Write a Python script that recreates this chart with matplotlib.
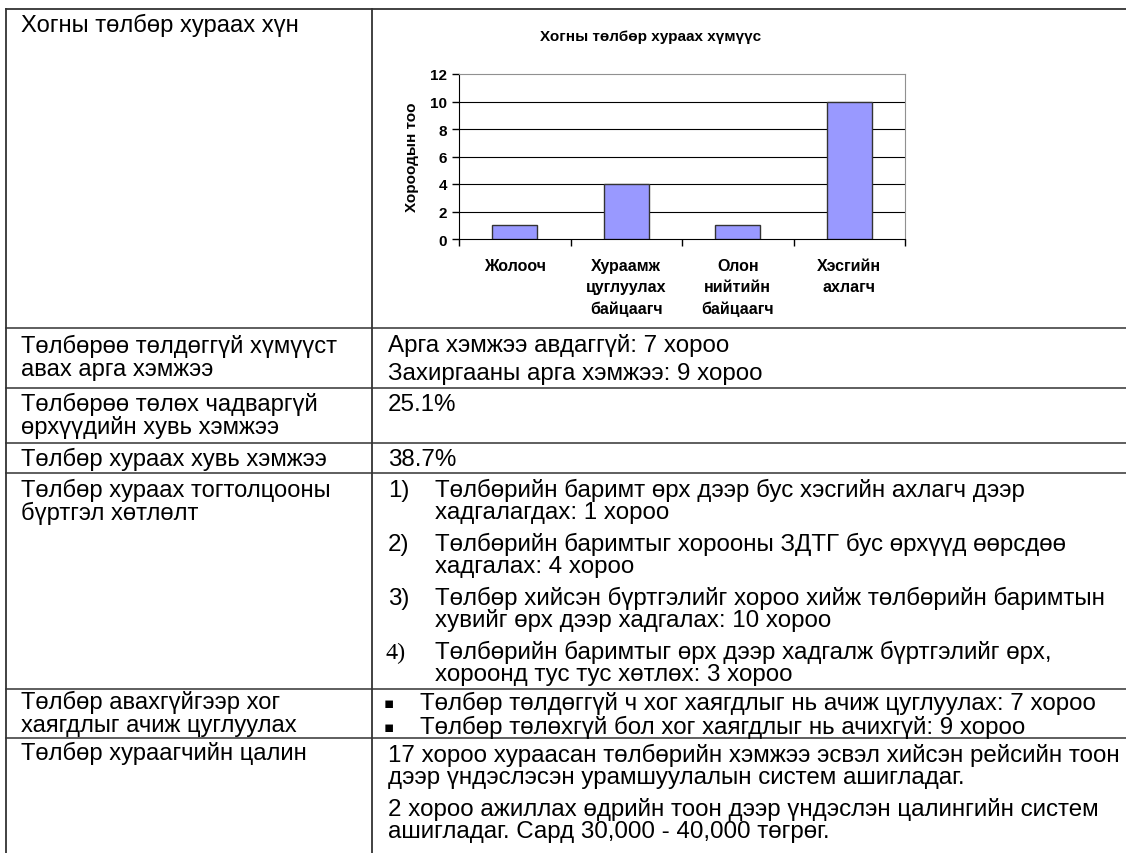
import matplotlib.pyplot as plt

# chart data
categories = ['Жолооч', 'Хураамж\nцуглуулах\nбайцаагч', 'Олон\nнийтийн\nбайцаагч', 'Хэсгийн\nахлагч']
counts = [1, 4, 1, 10]
y_ticks = [0, 2, 4, 6, 8, 10, 12]
chart_title = 'Хогны төлбөр хураах хүмүүс'
y_label = 'Хороодын тоо'

# table text
row_labels = [
    ['Хогны төлбөр хураах хүн'],
    ['Төлбөрөө төлдөггүй хүмүүст', 'авах арга хэмжээ'],
    ['Төлбөрөө төлөх чадваргүй', 'өрхүүдийн хувь хэмжээ'],
    ['Төлбөр хураах хувь хэмжээ'],
    ['Төлбөр хураах тогтолцооны', 'бүртгэл хөтлөлт'],
    ['Төлбөр авахгүйгээр хог', 'хаягдлыг ачиж цуглуулах'],
    ['Төлбөр хураагчийн цалин'],
]
measures = ['Арга хэмжээ авдаггүй: 7 хороо', 'Захиргааны арга хэмжээ: 9 хороо']
share_unable = '25.1%'
share_collected = '38.7%'
list_nums = ['1)', '2)', '3)', '4)']
list_items = [
    ['Төлбөрийн баримт өрх дээр бус хэсгийн ахлагч дээр', 'хадгалагдах: 1 хороо'],
    ['Төлбөрийн баримтыг хорооны ЗДТГ бус өрхүүд өөрсдөө', 'хадгалах: 4 хороо'],
    ['Төлбөр хийсэн бүртгэлийг хороо хийж төлбөрийн баримтын', 'хувийг өрх дээр хадгалах: 10 хороо'],
    ['Төлбөрийн баримтыг өрх дээр хадгалж бүртгэлийг өрх,', 'хороонд тус тус хөтлөх: 3 хороо'],
]
bullets = ['Төлбөр төлдөггүй ч хог хаягдлыг нь ачиж цуглуулах: 7 хороо',
           'Төлбөр төлөхгүй бол хог хаягдлыг нь ачихгүй: 9 хороо']
salary = [
    ['17 хороо хураасан төлбөрийн хэмжээ эсвэл хийсэн рейсийн тоон', 'дээр үндэслэсэн урамшуулалын систем ашигладаг.'],
    ['2 хороо ажиллах өдрийн тоон дээр үндэслэн цалингийн систем', 'ашигладаг. Сард 30,000 - 40,000 төгрөг.'],
]

W, H = 1126, 854
fig = plt.figure(figsize=(W / 100, H / 100), dpi=100)
fs = 17.1
fs_r = 17.4
sans = ['Liberation Sans', 'DejaVu Sans']

# table layer in pixel coords
tab = fig.add_axes([0, 0, 1, 1])
tab.set_xlim(0, W)
tab.set_ylim(H, 0)
tab.axis('off')
lc = '#333333'
tab.plot([6, W], [10, 10], color=lc, lw=1.3)
tab.plot([6, 6], [10, H], color=lc, lw=1.3)
tab.plot([372, 372], [10, H], color=lc, lw=1.3)
for y in [329, 389, 444, 474, 690, 739]:
    tab.plot([6, W], [y, y], color=lc, lw=1.1)

def put(x, y, s, size=fs_r, **kw):
    kw.setdefault('family', sans)
    tab.text(x, y, s, fontsize=size, va='baseline', ha='left', color='black', **kw)

# left column
left_base = [[32], [353, 376], [411, 434], [466], [497, 520], [709, 732], [760]]
for lines, ys in zip(row_labels, left_base):
    for s, y in zip(lines, ys):
        put(21, y, s, size=fs)

# right column
put(388, 352, measures[0])
put(388, 380, measures[1])
put(388, 411, share_unable)
put(388, 466, share_collected)
for k, (num, item) in enumerate(zip(list_nums, list_items)):
    y0 = 497 + k * 54
    if k == 3:
        put(386, y0, num, family=['Liberation Serif'])
    else:
        put(388, y0, num)
    put(435, y0, item[0])
    put(435, y0 + 22.5, item[1])
for k, b in enumerate(bullets):
    y0 = 710 + k * 24
    put(384, y0 - 2, '▪', size=11, family=['DejaVu Sans'])
    put(420, y0, b)
for k, par in enumerate(salary):
    y0 = 762 + k * 54
    put(388, y0, par[0])
    put(388, y0 + 22, par[1])

# bar chart
ax = fig.add_axes([459 / W, 1 - 240 / H, (905 - 459) / W, (240 - 75) / H])
pos = list(range(len(categories)))
ax.bar(pos, counts, width=0.4, color='#9999FF', edgecolor='#333333', linewidth=1, zorder=3)
ax.set_xlim(-0.5, len(categories) - 0.5)
ax.set_ylim(0, 12)
ax.set_yticks(y_ticks)
for v in y_ticks[1:-1]:
    ax.axhline(v, color='black', lw=0.8, zorder=1)
for side in ['top', 'right']:
    ax.spines[side].set_color('#909090')
for side in ['left', 'bottom']:
    ax.spines[side].set_color('black')
ax.set_xticks([p - 0.5 for p in pos] + [len(categories) - 0.5])
ax.set_xticklabels([])
ax.set_xticks(pos, minor=True)
ax.set_xticklabels(categories, minor=True, fontsize=11.5, fontweight='bold', family=sans, linespacing=1.5, va='top')
ax.tick_params(axis='x', which='minor', length=0, pad=14)
ax.tick_params(axis='x', which='major', length=5, direction='out', width=1)
ax.tick_params(axis='y', length=5, direction='out', width=1, pad=3.5)
for lab in ax.get_yticklabels():
    lab.set_fontsize(11)
    lab.set_fontweight('bold')
    lab.set_family(sans)
ax.set_ylabel(y_label, fontsize=11, fontweight='bold', family=sans, labelpad=8)
fig.text(651 / W, 1 - 37 / H, chart_title, fontsize=11, fontweight='bold', family=sans, ha='center', va='center')

fig.savefig('out.png', dpi=100)
